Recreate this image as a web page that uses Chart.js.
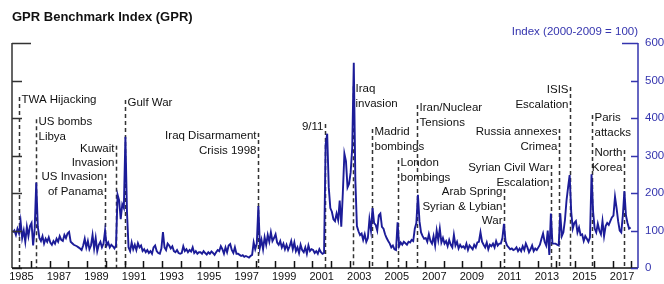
<!DOCTYPE html>
<html>
<head>
<meta charset="utf-8">
<script src="https://cdn.jsdelivr.net/npm/chart.js@4.4.1/dist/chart.umd.min.js"></script>
<style>
  html, body { margin: 0; padding: 0; background: #fff; }
  #wrap { width: 664px; height: 284px; }
</style>
</head>
<body>
<div id="wrap"><canvas id="gprChart" width="664" height="284"></canvas></div>
<script>
// GPR index, monthly, Jan 1985 - Dec 2017 (one row per year)
const startYear = 1985;
const gpr = [
  95, 100, 88, 105, 92, 125, 80, 100, 70, 110, 85, 112,
  120, 60, 105, 228, 110, 80, 72, 85, 65, 78, 70, 82,
  68, 62, 72, 65, 78, 70, 85, 75, 72, 88, 80, 92,
  96, 70, 66, 62, 60, 58, 55, 52, 48, 60, 78, 55,
  72, 50, 60, 88, 52, 80, 45, 62, 70, 55, 65, 100,
  60, 68, 55, 62, 58, 52, 60, 195, 180, 130, 170, 160,
  350, 150, 55, 45, 68, 50, 62, 48, 66, 55, 60, 45,
  50, 42, 48, 40, 45, 38, 55, 60, 45, 40, 38, 52,
  96, 55, 48, 65, 60, 52, 58, 45, 42, 48, 40, 38,
  40, 58, 45, 50, 42, 48, 44, 55, 40, 45, 38, 42,
  42, 38, 45, 40, 36, 42, 38, 44, 40, 35, 42, 48,
  45, 58, 50, 38, 55, 42, 60, 64, 48, 40, 55, 38,
  38, 35, 32, 34, 30, 32, 30, 28, 32, 35, 68, 50,
  65, 165, 55, 75, 50, 82, 62, 88, 70, 95, 72, 80,
  90, 68, 62, 72, 55, 65, 50, 62, 48, 58, 72, 50,
  68, 45, 55, 40, 62, 48, 42, 55, 38, 60, 45, 50,
  48, 40, 45, 38, 50, 42, 38, 40, 330, 358, 215, 160,
  150, 130, 125, 145, 128, 180, 110, 200, 305, 285, 215, 225,
  255, 320, 547, 235, 112, 98, 88, 92, 75, 90, 70, 80,
  130, 100, 160, 120, 115, 100, 140, 145, 110, 105, 90, 80,
  72, 65, 55, 60, 50, 48, 122, 58, 68, 62, 70, 66,
  62, 70, 68, 75, 72, 105, 120, 195, 125, 95, 85, 78,
  80, 70, 90, 72, 65, 85, 60, 100, 75, 105, 68, 80,
  65, 72, 58, 75, 62, 55, 88, 60, 70, 52, 62, 55,
  58, 52, 65, 48, 60, 55, 50, 62, 55, 68, 70, 95,
  70, 62, 55, 68, 50, 62, 58, 65, 55, 72, 60, 65,
  65, 80, 118, 72, 60, 55, 50, 52, 48, 50, 55, 45,
  52, 45, 58, 48, 65, 55, 42, 50, 60, 45, 52, 48,
  55, 62, 78, 92, 70, 60, 100, 35, 145, 65, 65, 65,
  62, 60, 146, 85, 95, 128, 180, 215, 248, 150, 105, 120,
  125, 95, 108, 88, 90, 72, 85, 78, 70, 82, 250, 150,
  105, 95, 118, 100, 90, 125, 85, 112, 120, 115, 125, 135,
  140, 190, 160, 125, 100, 95, 140, 205, 140, 120, 105, 108
];

const yearLabels = ['1985', '1987', '1989', '1991', '1993', '1995', '1997', '1999',
  '2001', '2003', '2005', '2007', '2009', '2011', '2013', '2015', '2017'];
const valueTicks = [0, 100, 200, 300, 400, 500, 600];

// events: date (decimal year) and label text
const eventDates = [1985.35, 1986.3, 1989.96, 1990.56, 1991.03, 1998.1, 2001.7, 2003.17,
  2004.17, 2005.54, 2006.6, 2011.2, 2013.72, 2014.15, 2014.71, 2015.88, 2017.6];
const eventNames = [
  ['TWA Hijacking'], ['US bombs', 'Libya'], ['US Invasion', 'of Panama'], ['Kuwait', 'Invasion'],
  ['Gulf War'], ['Iraq Disarmament', 'Crisis 1998'], ['9/11'], ['Iraq', 'invasion'],
  ['Madrid', 'bombings'], ['London', 'bombings'], ['Iran/Nuclear', 'Tensions'],
  ['Arab Spring', 'Syrian & Lybian', 'War'], ['Syrian Civil War', 'Escalation'],
  ['Russia annexes', 'Crimea'], ['ISIS', 'Escalation'], ['Paris', 'attacks'], ['North', 'Korea']
];
// label layout: side of the dashed line, and index level of the first text line
const eventSide = ['L', 'L', 'R', 'R', 'L', 'R', 'R', 'L', 'L', 'L', 'L', 'R', 'R', 'R', 'R', 'L', 'R'];
const eventLevel = [448, 389, 243, 318, 440, 352, 376, 477, 363, 280, 427, 203, 267, 363, 475, 400, 307];

const points = gpr.map((v, i) => ({ x: startYear + (i + 0.5) / 12, y: v }));

const blue = '#3434ae';
const navy = '#1c1c98';
const font = '"Liberation Sans", Arial, sans-serif';

const decor = {
  id: 'decor',
  beforeDatasetsDraw(chart) {
    const { ctx, chartArea: a, scales: { x, y } } = chart;
    ctx.save();
    ctx.font = '11.5px ' + font;
    ctx.fillStyle = '#111';
    ctx.textBaseline = 'middle';
    eventDates.forEach((d, i) => {
      const px = Math.round(x.getPixelForValue(d)) + 0.5;
      const py = y.getPixelForValue(eventLevel[i]);
      ctx.strokeStyle = '#333';
      ctx.lineWidth = 1.5;
      ctx.setLineDash([4, 3]);
      ctx.beginPath();
      ctx.moveTo(px, py - 3);
      ctx.lineTo(px, a.bottom);
      ctx.stroke();
      ctx.setLineDash([]);
      ctx.textAlign = eventSide[i] === 'L' ? 'left' : 'right';
      const tx = eventSide[i] === 'L' ? px + 2 : px - 2;
      eventNames[i].forEach((t, k) => ctx.fillText(t, tx, py + k * 14.5));
    });
    ctx.restore();
  },
  afterDraw(chart) {
    const { ctx, chartArea: a, scales: { x, y } } = chart;
    ctx.save();
    ctx.lineWidth = 1.5;
    // left axis
    ctx.strokeStyle = '#333';
    ctx.beginPath();
    ctx.moveTo(a.left, a.top);
    ctx.lineTo(a.left, a.bottom);
    valueTicks.forEach(v => {
      const py = Math.round(y.getPixelForValue(v)) + 0.5;
      ctx.moveTo(a.left, py);
      ctx.lineTo(a.left + (v === 600 ? 19 : 10), py);
    });
    ctx.stroke();
    // bottom axis with yearly ticks
    ctx.strokeStyle = '#111';
    ctx.beginPath();
    ctx.moveTo(a.left, a.bottom);
    ctx.lineTo(a.right, a.bottom);
    for (let yr = startYear + 1; yr <= 2018; yr++) {
      const px = Math.round(x.getPixelForValue(yr)) + 0.5;
      ctx.moveTo(px, a.bottom);
      ctx.lineTo(px, a.bottom - 7);
    }
    ctx.stroke();
    // right axis
    ctx.strokeStyle = blue;
    ctx.beginPath();
    ctx.moveTo(a.right, a.top);
    ctx.lineTo(a.right, a.bottom);
    valueTicks.forEach(v => {
      const py = Math.round(y.getPixelForValue(v)) + 0.5;
      ctx.moveTo(a.right, py);
      ctx.lineTo(a.right - (v === 600 ? 16 : 7), py);
    });
    ctx.stroke();
    // titles
    ctx.textBaseline = 'middle';
    ctx.fillStyle = '#111';
    ctx.textAlign = 'left';
    ctx.font = 'bold 13px ' + font;
    ctx.fillText('GPR Benchmark Index (GPR)', 12, 17);
    ctx.fillStyle = blue;
    ctx.textAlign = 'right';
    ctx.font = '11.5px ' + font;
    ctx.fillText('Index (2000-2009 = 100)', a.right, 32);
    ctx.restore();
  }
};

new Chart(document.getElementById('gprChart'), {
  type: 'line',
  data: {
    datasets: [{
      data: points,
      borderColor: navy,
      borderWidth: 1.9,
      pointRadius: 0,
      tension: 0,
      fill: false
    }]
  },
  options: {
    responsive: false,
    animation: false,
    layout: { padding: { left: 12, top: 43, right: 0, bottom: 0 } },
    plugins: { legend: { display: false }, tooltip: { enabled: false } },
    scales: {
      x: {
        type: 'linear',
        min: 1985,
        max: 2018.35,
        afterBuildTicks: s => { s.ticks = yearLabels.map(l => ({ value: +l + 0.5 })); },
        afterFit: s => { s.height = 16; },
        ticks: {
          autoSkip: false, maxRotation: 0, padding: 2, color: '#111',
          font: { family: font, size: 11 },
          callback: v => String(Math.floor(v))
        },
        grid: { display: false, drawTicks: false },
        border: { display: false }
      },
      y: {
        position: 'right',
        min: 0,
        max: 600,
        afterBuildTicks: s => { s.ticks = valueTicks.map(v => ({ value: v })); },
        afterFit: s => { s.width = 26; },
        ticks: { padding: 7, color: blue, font: { family: font, size: 11.5 } },
        grid: { display: false, drawTicks: false },
        border: { display: false }
      }
    }
  },
  plugins: [decor]
});
</script>
</body>
</html>
